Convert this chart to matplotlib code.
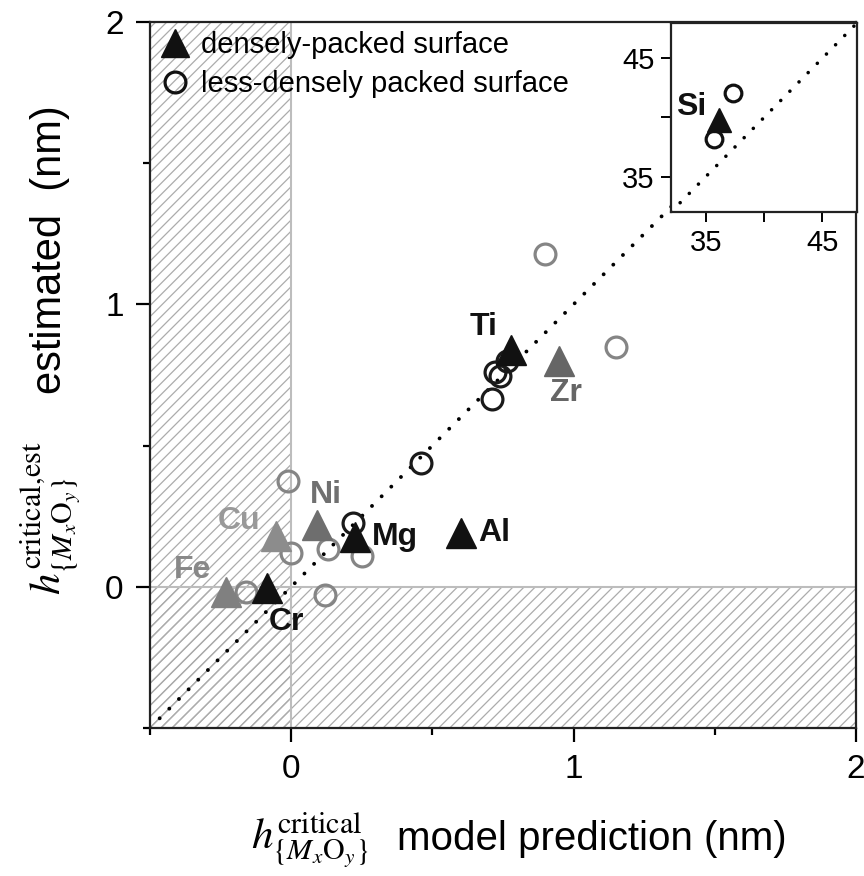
import matplotlib
matplotlib.use('Agg')
import matplotlib.pyplot as plt

plt.rcParams['font.family'] = ['Liberation Sans', 'DejaVu Sans']
plt.rcParams['mathtext.fontset'] = 'stix'
plt.rcParams['hatch.linewidth'] = 0.9
plt.rcParams['hatch.color'] = '#acacac'

# densely-packed surface (triangles)
tri_names = ['Ti', 'Zr', 'Al', 'Mg', 'Ni', 'Cu', 'Fe', 'Cr']
tri_x = [0.78, 0.95, 0.60, 0.225, 0.09, -0.055, -0.23, -0.085]
tri_y = [0.84, 0.80, 0.19, 0.175, 0.22, 0.18, -0.02, -0.005]
tri_colors = ['#111111', '#666666', '#111111', '#111111', '#6e6e6e', '#8c8c8c', '#808080', '#111111']

# less-densely packed surface (circles)
circ_x = [0.71, 0.72, 0.74, 0.765, 0.46, 0.22,
          0.90, 1.15, -0.01, 0.0, 0.13, 0.25, -0.16, 0.12]
circ_y = [0.665, 0.76, 0.745, 0.80, 0.44, 0.225,
          1.18, 0.85, 0.375, 0.12, 0.135, 0.11, -0.02, -0.03]
circ_colors = ['#1a1a1a'] * 6 + ['#858585'] * 8

# inset: Si
si_tri_x, si_tri_y = [36.1], [39.8]
si_circ_x, si_circ_y = [35.7, 37.3], [38.2, 42.1]

# label offsets (points) and alignment for each triangle
lab_off = [(-20, 16), (5, -23), (13, 0), (12, 0), (7, 21), (-26, 11), (-24, 16), (14, -24)]
lab_ha = ['center', 'center', 'left', 'left', 'center', 'center', 'center', 'center']
lab_colors = ['#111111', '#666666', '#111111', '#111111', '#707070', '#999999', '#888888', '#111111']

fig = plt.figure(figsize=(8.64, 8.76), dpi=100)
ax = fig.add_axes([0.1736, 0.169, 0.8171, 0.8059])

ax.set_xlim(-0.5, 2)
ax.set_ylim(-0.5, 2)

# shaded (unphysical) regions
ax.axvspan(-0.5, 0, facecolor='none', edgecolor='#acacac', hatch='///', lw=0, zorder=0)
ax.axhspan(-0.5, 0, facecolor='none', edgecolor='#acacac', hatch='///', lw=0, zorder=0)
ax.axvline(0, color='#bdbdbd', lw=1.5, zorder=1)
ax.axhline(0, color='#bdbdbd', lw=1.5, zorder=1)

ax.plot([-0.5, 2], [-0.5, 2], color='black', lw=2.8, linestyle=(0, (0.01, 3.5)),
        dash_capstyle='round', zorder=2)

for x, y, c in zip(circ_x, circ_y, circ_colors):
    ax.plot(x, y, 'o', ms=15, mfc='none', mec=c, mew=2.3, zorder=3)
for x, y, c in zip(tri_x, tri_y, tri_colors):
    ax.plot(x, y, '^', ms=21, color=c, mec=c, zorder=4)
for name, x, y, off, ha, c in zip(tri_names, tri_x, tri_y, lab_off, lab_ha, lab_colors):
    ax.annotate(name, (x, y), xytext=off, textcoords='offset points', ha=ha, va='center',
                fontsize=23, fontweight='bold', color=c, zorder=5)

# legend handles
h1, = ax.plot([], [], '^', ms=20, color='#111111', label='densely-packed surface')
h2, = ax.plot([], [], 'o', ms=15, mfc='none', mec='#111111', mew=2.3, label='less-densely packed surface')
ax.legend(handles=[h1, h2], loc='upper left', frameon=False, fontsize=21,
          handletextpad=0.35, borderaxespad=0.1, labelspacing=0.4, handlelength=1.1,
          borderpad=0.2)

ax.set_xticks([0, 1, 2])
ax.set_yticks([0, 1, 2])
ax.set_xticks([-0.5, 0.5, 1.5], minor=True)
ax.set_yticks([-0.5, 0.5, 1.5], minor=True)
ax.tick_params(which='major', length=10, width=1.6, labelsize=24, direction='out', pad=9)
ax.tick_params(which='minor', length=5, width=1.6, direction='out')
for s in ax.spines.values():
    s.set_linewidth(1.6)
    s.set_color('#222222')

# y label
fig.text(50 / 864, 1 - 250 / 876, 'estimated  (nm)', rotation=90, ha='center', va='center', fontsize=30)
fig.text(50 / 864, 1 - 518 / 876, r'$h^{\mathrm{critical,\!est}}_{\{M_x\mathrm{O}_y\}}$',
         rotation=90, ha='center', va='center', fontsize=31)
# x label
fig.text(310 / 864, 1 - 840 / 876, r'$h^{\mathrm{critical}}_{\{M_x\mathrm{O}_y\}}$',
         ha='center', va='center', fontsize=31)
fig.text(397 / 864, 1 - 850 / 876, 'model prediction (nm)', ha='left', va='baseline', fontsize=29)

# inset
axi = fig.add_axes([671 / 864, 1 - 212 / 876, 186 / 864, 189 / 876])
axi.set_xlim(32, 48)
axi.set_ylim(32, 48)
axi.plot([32, 48], [32, 48], color='black', lw=2.6, linestyle=(0, (0.01, 3.6)),
         dash_capstyle='round', zorder=2)
axi.plot(si_circ_x, si_circ_y, 'o', ms=12, mfc='none', mec='#111111', mew=2.3, linestyle='none', zorder=3)
axi.plot(si_tri_x, si_tri_y, '^', ms=17, color='#111111', linestyle='none', zorder=4)
axi.annotate('Si', (si_tri_x[0], si_tri_y[0]), xytext=(-20, 9), textcoords='offset points',
             ha='center', va='center', fontsize=23, fontweight='bold', color='#111111')
axi.set_xticks([35, 45])
axi.set_yticks([35, 45])
axi.set_xticks([40], minor=True)
axi.set_yticks([40], minor=True)
axi.tick_params(which='major', length=7, width=1.4, labelsize=21, pad=5)
axi.tick_params(which='minor', length=7, width=1.4)
for s in axi.spines.values():
    s.set_linewidth(1.6)
    s.set_color('#222222')

fig.savefig('out.png', dpi=100)
